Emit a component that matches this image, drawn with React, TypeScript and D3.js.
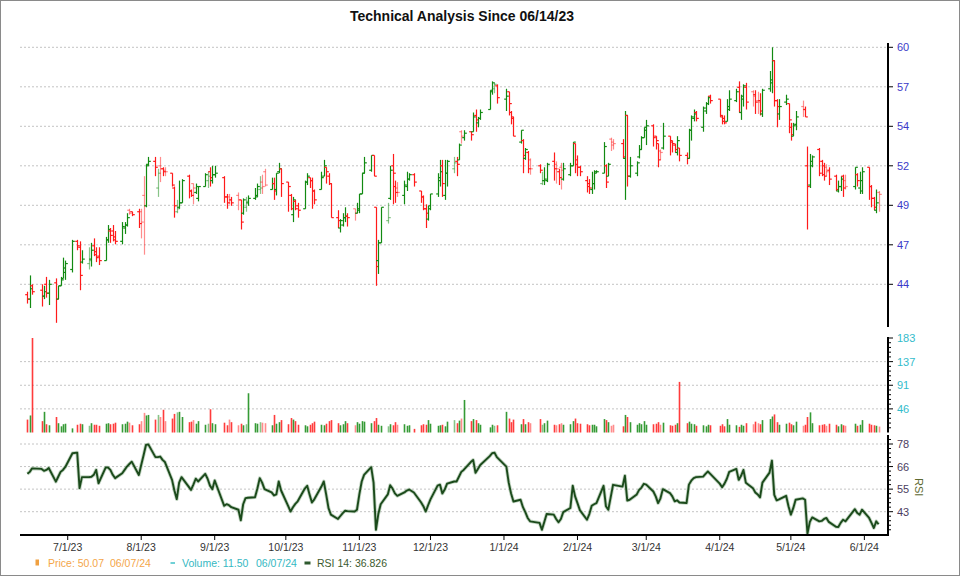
import React from "react";
import * as d3 from "d3";

// ---------- DATA ----------
const monthKeys = ["2023-06","2023-07","2023-08","2023-09","2023-10","2023-11","2023-12","2024-01","2024-02","2024-03","2024-04","2024-05","2024-06"];
const monthDays = [
  [14,15,16,20,21,22,23,26,27,28,29,30],
  [3,5,6,7,10,11,12,13,14,17,18,19,20,21,24,25,26,27,28,31],
  [1,2,3,4,7,8,9,10,11,14,15,16,17,18,21,22,23,24,25,28,29,30,31],
  [1,5,6,7,8,11,12,13,14,15,18,19,20,21,22,25,26,27,28,29],
  [2,3,4,5,6,9,10,11,12,13,16,17,18,19,20,23,24,25,26,27,30,31],
  [1,2,3,6,7,8,9,10,13,14,15,16,17,20,21,22,24,27,28,29,30],
  [1,4,5,6,7,8,11,12,13,14,15,18,19,20,21,22,26,27,28,29],
  [2,3,4,5,8,9,10,11,12,16,17,18,19,22,23,24,25,26,29,30,31],
  [1,2,5,6,7,8,9,12,13,14,15,16,20,21,22,23,26,27,28,29],
  [1,4,5,6,7,8,11,12,13,14,15,18,19,20,21,22,25,26,27,28],
  [1,2,3,4,5,8,9,10,11,12,15,16,17,18,19,22,23,24,25,26,29,30],
  [1,2,3,6,7,8,9,10,13,14,15,16,17,20,21,22,23,24,28,29,30,31],
  [3,4,5,6,7],
];

const opens = [
  43.3,43.0,43.9,43.6,43.2,44.0,43.4,44.1,43.0,43.9,44.4,44.8,
  45.0,46.9,46.5,45.5,45.4,45.7,46.6,46.2,45.9,45.6,47.0,47.6,47.6,47.2,46.9,47.8,48.0,49.0,48.9,48.9,
  48.9,50.0,49.3,52.1,52.3,50.5,52.0,51.8,51.7,51.5,50.5,48.9,49.2,49.5,51.3,50.3,50.8,50.2,49.8,50.6,51.0,51.6,51.0,
  51.4,51.2,49.9,49.9,49.7,50.0,49.7,48.8,49.2,49.5,49.8,50.0,50.4,50.9,51.6,50.4,50.8,50.4,51.6,51.8,
  50.9,50.0,48.7,49.6,49.3,49.1,50.9,51.2,51.0,50.3,50.4,51.3,51.9,51.3,50.8,48.5,47.8,48.0,48.5,48.6,49.1,48.8,
  49.0,50.1,51.5,51.7,52.7,49.2,45.6,46.8,48.3,49.8,52.0,50.6,50.5,50.0,50.6,51.1,51.4,50.3,49.9,49.1,48.4,
  49.1,50.1,51.0,52.0,50.0,51.5,51.8,52.3,52.4,54.3,53.9,54.3,54.3,55.4,54.9,55.2,55.8,57.0,57.2,57.4,
  56.5,57.0,55.6,55.2,53.6,53.7,52.5,52.9,52.4,52.0,50.8,51.0,51.0,52.3,52.1,51.6,51.9,51.1,51.4,52.0,53.5,
  52.4,51.9,51.0,50.8,50.4,50.8,51.5,51.5,52.0,51.3,53.8,53.6,53.5,52.5,55.4,51.3,51.5,52.6,53.1,53.9,
  54.4,54.7,54.0,53.5,53.0,53.2,54.0,53.7,53.4,52.9,53.2,52.7,52.5,54.4,55.2,55.6,54.6,55.7,56.2,56.7,
  56.5,55.3,55.2,55.0,55.8,56.4,57.3,55.6,56.5,57.3,57.0,56.8,56.4,56.4,55.5,57.2,57.6,59.1,56.4,55.5,56.3,56.2,
  54.6,54.0,54.8,56.0,55.8,52.0,50.7,52.0,53.1,52.3,52.0,51.9,51.7,51.3,50.3,50.6,51.3,51.0,50.6,51.4,50.5,50.3,
  51.9,50.6,49.8,49.0,50.2,
];
const highs = [
  43.5,44.6,44.0,44.0,43.9,44.5,44.3,44.4,43.9,44.5,45.8,45.6,
  47.0,47.0,46.9,46.3,46.5,46.8,47.1,46.5,46.5,47.2,48.0,47.8,48.0,47.6,48.2,48.2,48.8,49.1,48.9,49.1,
  49.1,51.3,52.1,52.6,52.6,51.8,52.6,51.9,51.9,51.5,50.6,49.7,51.0,51.1,51.4,50.4,50.8,50.8,50.6,51.5,51.6,51.9,52.0,
  52.0,51.3,50.1,50.1,49.9,50.2,49.7,49.8,49.9,50.0,50.5,50.8,51.3,51.4,51.8,51.2,51.2,51.5,52.2,51.8,
  50.9,50.1,49.9,49.7,49.5,51.0,51.5,51.2,51.2,50.4,51.6,52.4,51.9,51.5,50.8,49.0,48.4,48.8,49.2,48.8,49.1,49.5,
  50.1,51.5,52.6,52.7,52.7,49.2,47.0,49.2,49.5,52.0,52.8,51.0,50.9,51.0,51.6,51.5,51.5,50.3,50.0,49.4,49.3,
  50.1,51.5,52.4,52.4,52.4,52.4,52.6,52.6,53.5,54.4,54.4,54.3,55.6,55.8,55.3,55.8,57.1,57.7,57.6,57.5,
  57.2,57.0,55.7,55.3,54.4,53.8,53.2,53.0,52.5,52.1,51.6,51.9,52.2,52.9,52.3,51.8,52.2,52.2,52.2,53.6,53.5,
  52.7,52.0,51.3,51.1,51.6,51.7,51.7,53.6,52.1,52.2,53.9,53.8,53.8,55.7,55.4,52.6,52.3,53.4,54.0,54.6,
  55.1,54.8,54.0,53.5,53.1,54.9,54.0,53.7,53.5,54.0,53.2,52.9,54.5,55.4,55.8,55.7,56.0,56.3,56.7,56.8,
  56.5,55.4,55.4,56.5,57.1,57.2,57.7,56.8,57.5,57.6,57.1,57.1,57.0,56.9,57.2,58.4,60.0,59.1,56.5,56.5,56.8,56.2,
  54.9,54.9,55.7,56.4,56.0,53.3,52.8,52.7,53.2,52.4,52.2,52.1,51.9,51.4,51.0,51.3,51.4,51.4,51.9,51.5,51.6,51.9,
  51.9,50.7,49.9,50.4,50.3,
];
const lows = [
  42.7,42.4,43.3,42.5,43.0,43.1,42.6,41.4,43.0,43.9,44.4,44.3,
  44.8,46.3,43.6,45.4,45.0,45.2,45.9,45.5,45.3,45.6,46.8,46.8,46.9,46.7,46.7,47.4,47.9,48.7,48.6,47.8,
  47.1,46.0,49.2,52.0,51.3,49.9,50.9,51.3,51.3,50.6,48.5,48.8,49.1,49.5,49.8,49.9,49.4,50.1,49.6,50.6,50.5,50.6,50.8,
  51.2,49.5,49.1,49.4,49.3,49.0,47.7,48.7,48.9,49.3,49.7,49.9,50.1,50.1,50.6,50.4,49.7,50.0,51.5,49.9,
  48.9,49.0,48.2,49.0,48.5,49.1,50.7,50.5,49.1,49.4,50.4,51.3,50.8,50.7,48.5,47.8,47.5,47.9,48.2,47.9,48.3,48.8,
  48.8,50.1,51.5,51.6,51.3,43.9,44.7,46.8,48.1,49.7,49.4,49.5,49.9,49.4,50.3,51.0,50.6,49.5,49.0,47.8,48.3,
  49.0,49.9,50.6,49.9,49.7,50.6,51.5,51.3,52.4,53.5,53.7,53.7,54.3,54.3,54.6,55.1,55.8,56.8,56.9,56.2,
  55.7,55.4,54.8,54.0,53.5,51.5,52.4,51.5,51.4,51.5,50.7,50.7,50.9,51.0,50.8,50.7,50.4,51.0,51.3,52.0,51.5,
  51.3,51.3,50.2,50.1,50.1,50.4,51.5,51.5,50.5,51.3,53.0,53.1,52.5,49.7,50.6,51.2,51.3,52.5,53.1,53.9,
  53.4,53.3,53.1,51.9,52.4,53.1,52.7,52.9,52.9,52.7,52.3,52.1,52.5,53.7,55.0,55.0,54.3,55.5,56.1,56.2,
  55.3,54.8,54.8,55.0,55.7,56.3,55.6,55.1,56.0,55.8,56.0,55.5,55.5,55.4,55.3,57.0,56.9,56.0,54.6,55.1,56.1,54.2,
  53.7,54.0,54.4,55.3,55.3,47.7,50.5,51.9,51.3,51.3,51.0,51.3,50.7,50.3,50.2,50.3,49.9,50.4,50.4,50.6,50.1,50.1,
  49.7,49.2,49.0,48.8,48.9,
];
const closes = [
  43.0,43.7,43.5,43.2,43.5,43.4,44.0,43.0,43.9,44.3,45.1,45.4,
  46.9,46.6,44.6,45.7,45.6,46.3,46.0,45.8,45.6,47.0,47.7,47.3,47.0,46.9,47.9,48.0,48.5,48.8,48.7,48.1,
  48.2,49.3,52.0,52.3,51.9,51.5,51.8,51.6,51.6,50.7,49.3,49.1,49.5,51.0,50.3,50.0,50.5,50.6,50.6,51.4,51.3,51.2,51.4,
  51.5,49.9,49.5,49.7,49.5,49.7,48.2,49.7,49.6,49.8,49.9,50.6,50.5,50.6,50.7,50.8,50.3,51.5,51.8,50.8,
  50.6,49.1,49.7,49.1,49.0,50.9,51.3,51.0,50.3,49.7,51.2,52.0,51.6,50.8,48.5,48.3,48.3,48.5,48.6,48.5,48.8,49.1,
  50.1,51.5,52.2,52.7,51.3,45.2,46.8,49.2,48.5,51.7,51.5,50.2,50.2,50.7,51.1,51.4,50.9,49.9,49.1,48.8,49.3,
  50.1,51.2,51.6,50.8,51.5,52.3,52.2,52.1,53.4,54.0,54.2,54.1,55.3,55.1,55.2,55.6,57.1,57.6,57.5,56.6,
  56.7,56.2,55.3,54.0,54.4,52.7,53.1,51.8,51.8,51.7,51.0,51.1,52.1,51.8,51.8,51.2,51.7,51.8,52.0,53.6,52.1,
  51.9,51.6,50.6,50.5,50.8,51.6,51.6,53.3,50.9,52.1,53.4,53.5,52.6,55.4,51.3,52.0,52.2,53.1,53.9,54.6,
  54.7,53.9,53.7,52.4,52.9,54.0,53.6,53.5,53.1,53.7,52.7,52.5,54.4,55.3,55.5,55.2,55.9,56.2,56.6,56.4,
  55.4,55.0,54.9,56.0,56.5,57.0,55.6,56.7,57.4,56.3,56.7,56.3,56.3,55.7,57.1,57.8,59.1,56.4,56.0,56.0,56.5,55.1,
  54.1,54.7,55.3,55.8,55.3,50.6,52.3,52.6,51.5,51.4,51.3,51.6,51.1,50.4,50.6,51.1,50.5,50.6,51.9,51.0,51.0,51.6,
  50.6,49.8,49.2,49.5,50.07,
];
const volumes = [
  25,33,183,22,40,16,14,30,18,12,16,17,
  8,15,17,16,13,18,15,15,13,17,18,16,17,19,16,17,21,19,14,16,
  22,38,33,34,25,34,30,44,22,27,36,39,40,30,20,21,24,17,22,15,17,45,18,
  16,19,14,25,20,14,17,14,16,76,18,17,20,19,18,14,34,17,20,24,
  16,28,25,22,15,14,12,15,18,21,15,14,17,22,24,18,14,16,22,18,14,20,
  17,22,21,18,22,28,15,13,12,16,14,20,15,16,13,14,7,14,16,15,24,
  17,13,14,15,12,21,24,18,23,27,63,22,26,24,18,15,10,15,13,14,
  40,27,20,25,16,26,16,20,18,26,15,18,23,15,14,16,18,15,16,22,27,
  18,17,16,14,15,15,12,26,24,20,13,15,12,34,30,20,15,18,16,22,
  15,16,17,20,15,19,14,13,15,18,98,18,21,17,16,13,14,12,15,14,
  13,16,12,26,15,14,11,15,13,18,16,21,18,16,24,26,31,35,20,15,17,19,
  16,14,21,13,15,30,39,18,14,15,16,13,17,15,12,16,14,13,17,13,15,24,
  17,15,14,13,11.5,
];
const rsiValues = [
  62.5,63.5,65.3,65.0,64.0,64.5,65.5,58.5,61.0,63.5,64.5,66.0,
  73.0,73.3,55.2,60.8,60.8,61.0,62.0,64.5,57.7,65.7,65.7,64.5,62.0,60.3,62.8,64.5,66.2,67.5,68.7,61.9,
  67.0,72.0,77.2,77.5,71.0,71.0,71.3,69.6,68.5,59.4,54.0,49.6,58.0,60.8,56.0,54.3,57.0,60.0,58.6,62.5,60.0,56.5,54.7,
  59.1,46.2,47.0,46.5,45.5,44.2,38.8,47.0,50.1,50.3,50.6,55.0,60.3,58.0,54.7,53.0,51.5,52.0,58.6,54.0,
  46.0,43.3,45.5,47.2,48.5,55.0,56.4,52.0,47.9,49.5,56.0,58.6,52.0,45.0,41.7,39.5,41.0,42.5,43.7,43.5,43.3,44.2,
  52.0,58.6,62.0,65.9,58.0,34.0,42.0,47.0,52.0,56.7,55.0,52.5,51.3,53.0,54.0,54.5,53.0,48.0,46.0,43.3,46.5,
  49.5,56.5,57.0,52.5,54.5,57.5,58.6,58.6,61.0,63.5,64.5,68.5,69.6,63.0,65.0,67.0,71.5,73.0,73.3,71.0,
  66.2,58.0,52.5,48.4,49.3,45.5,43.0,40.0,38.3,37.5,34.0,38.0,42.0,41.7,39.5,37.8,39.5,43.0,45.1,56.4,51.0,
  47.6,44.0,39.1,42.0,46.2,47.0,47.6,56.4,46.0,44.2,50.5,56.9,56.0,61.5,48.9,49.3,52.0,54.3,55.5,57.4,
  57.0,53.5,51.0,47.6,50.0,54.7,52.7,51.0,48.5,49.0,47.9,47.6,57.0,59.0,60.3,60.8,61.1,62.5,63.7,62.5,
  57.5,55.7,57.5,60.0,63.5,65.0,59.4,61.5,64.5,58.0,55.2,53.0,52.0,50.5,58.0,63.1,69.2,51.8,49.0,49.5,51.3,46.0,
  41.7,45.0,49.3,50.0,49.3,32.0,38.0,40.3,38.3,38.5,39.5,40.0,38.0,35.5,35.4,37.5,39.1,38.3,44.5,42.5,41.7,44.2,
  40.0,37.5,34.9,38.3,36.8,
];

const priceTickLabels = ["44","47","49","52","54","57","60"];
const volumeTickLabels = ["46","91","137","183"];
const rsiTickLabels = ["43","55","66","78"];
const xTickDates = ["2023-07-01","2023-08-01","2023-09-01","2023-10-01","2023-11-01","2023-12-01","2024-01-01","2024-02-01","2024-03-01","2024-04-01","2024-05-01","2024-06-01"];
const xTickLabels = ["7/1/23","8/1/23","9/1/23","10/1/23","11/1/23","12/1/23","1/1/24","2/1/24","3/1/24","4/1/24","5/1/24","6/1/24"];

// ---------- HELPERS ----------
function parseDay(s: string): Date {
  const [y, m, d] = s.split("-").map(Number);
  return new Date(y, m - 1, d);
}

function buildDates(): Date[] {
  const out: Date[] = [];
  monthKeys.forEach((mk, i) => {
    const [y, m] = mk.split("-").map(Number);
    monthDays[i].forEach((d) => out.push(new Date(y, m - 1, d)));
  });
  return out;
}

const FONT = "'Liberation Sans', Arial, Helvetica, sans-serif";
const GREEN = "#128a12";
const RED = "#ff1a1a";

export default function App() {
  const dates = buildDates();
  const bars = dates.map((date, i) => {
    const o = opens[i], h = highs[i], l = lows[i], c = closes[i];
    const prev = i > 0 ? closes[i - 1] : o;
    const up = c >= o;
    const pale = (c >= prev) !== up;
    return { date, o, h, l, c, v: volumes[i], r: rsiValues[i], color: up ? GREEN : RED, op: pale ? 0.5 : 1 };
  });

  const left = 20, right = 888;
  const x = d3.scaleTime().domain([new Date(2023, 5, 14), new Date(2024, 5, 7)]).range([27.4, 878.6]);
  const yP = d3.scaleLinear().domain([44, 60]).range([284.3, 47.3]);
  const yV = d3.scaleLinear().domain([0, 183]).range([432.5, 338]);
  const yR = d3.scaleLinear().domain([43.2, 77.7]).range([511.7, 444]);

  const priceTicks = d3.range(7).map((i) => 44 + (i * 16) / 6);
  const volTicks = d3.range(1, 5).map((i) => (183 * i) / 4);
  const volMinor = d3.range(1, 20).filter((i) => i % 5 !== 0).map((i) => (183 * i) / 20);
  const rsiTicks = d3.range(4).map((i) => 43.2 + i * 11.5);
  const rsiMinor = d3.range(-5, 17).filter((i) => i % 5 !== 0).map((i) => 43.2 + i * 2.3).filter((v) => yR(v) > 436 && yR(v) < 534);

  const rsiLine = d3.line<typeof bars[number]>().x((d) => x(d.date)).y((d) => yR(d.r));
  const rsiPath = rsiLine(bars) || "";

  const tw = 2.3;

  return (
    <svg width={960} height={576} style={{ position: "absolute", left: 0, top: 0, display: "block", background: "#fff" }} fontFamily={FONT}>
      <rect x={0} y={0} width={960} height={576} fill="#fff" />
      <rect x={0.5} y={0.5} width={959} height={575} fill="none" stroke="#8a8a8a" />

      <text x={462} y={21} textAnchor="middle" fontSize={14} fontWeight="bold" fill="#111" textLength={224} lengthAdjust="spacingAndGlyphs">
        Technical Analysis Since 06/14/23
      </text>

      {/* gridlines */}
      {priceTicks.map((t, i) => (
        <line key={"pg" + i} x1={left} x2={right} y1={yP(t)} y2={yP(t)} stroke="#c4c4c4" strokeDasharray="2,2" />
      ))}
      {volTicks.slice(0, 3).map((t, i) => (
        <line key={"vg" + i} x1={left} x2={right} y1={yV(t)} y2={yV(t)} stroke="#c4c4c4" strokeDasharray="2,2" />
      ))}
      {rsiTicks.map((t, i) => (
        <line key={"rg" + i} x1={left} x2={right} y1={yR(t)} y2={yR(t)} stroke="#c4c4c4" strokeDasharray="2,2" />
      ))}

      {/* price bars */}
      {bars.map((b, i) => {
        const cx = Math.round(x(b.date)) + 0.5;
        return (
          <g key={"b" + i} stroke={b.color} strokeOpacity={b.op} strokeWidth={1.2}>
            <line x1={cx} x2={cx} y1={yP(b.h)} y2={yP(b.l)} />
            <line x1={cx - tw} x2={cx} y1={yP(b.o)} y2={yP(b.o)} />
            <line x1={cx} x2={cx + tw} y1={yP(b.c)} y2={yP(b.c)} />
          </g>
        );
      })}

      {/* volume bars */}
      {bars.map((b, i) => {
        const cx = Math.round(x(b.date)) + 0.5;
        return (
          <rect key={"v" + i} x={cx - 0.8} width={1.6} y={yV(b.v)} height={yV(0) - yV(b.v)} fill={b.color} fillOpacity={b.op === 1 ? 0.85 : 0.5} />
        );
      })}

      {/* RSI line */}
      <path d={rsiPath} fill="none" stroke="#8fb08f" strokeOpacity={0.55} strokeWidth={3.6} strokeLinejoin="round" />
      <path d={rsiPath} fill="none" stroke="#1b4a1b" strokeWidth={1.9} strokeLinejoin="round" />

      {/* right axes */}
      <line x1={right} x2={right} y1={43} y2={327} stroke="#000" strokeWidth={2} />
      {priceTicks.map((t, i) => (
        <g key={"pt" + i}>
          <line x1={right} x2={right + 5} y1={yP(t)} y2={yP(t)} stroke="#000" />
          <text x={897} y={yP(t) + 4} fontSize={11} fill="#3a3ac8">{priceTickLabels[i]}</text>
        </g>
      ))}

      <line x1={right} x2={right} y1={337} y2={yV(0)} stroke="#000" strokeWidth={2} />
      {volMinor.map((t, i) => (
        <line key={"vm" + i} x1={right} x2={right + 3} y1={yV(t)} y2={yV(t)} stroke="#000" />
      ))}
      {volTicks.map((t, i) => (
        <g key={"vt" + i}>
          <line x1={right} x2={right + 5} y1={yV(t)} y2={yV(t)} stroke="#000" />
          <text x={897} y={yV(t) + 4} fontSize={11} fill="#33bccb">{volumeTickLabels[i]}</text>
        </g>
      ))}

      <line x1={right} x2={right} y1={435} y2={536} stroke="#000" strokeWidth={2} />
      {rsiMinor.map((t, i) => (
        <line key={"rm" + i} x1={right} x2={right + 3} y1={yR(t)} y2={yR(t)} stroke="#000" />
      ))}
      {rsiTicks.map((t, i) => (
        <g key={"rt" + i}>
          <line x1={right} x2={right + 5} y1={yR(t)} y2={yR(t)} stroke="#000" />
          <text x={897} y={yR(t) + 4} fontSize={11} fill="#4b3d5e">{rsiTickLabels[i]}</text>
        </g>
      ))}
      <text transform="translate(915,478) rotate(90)" fontSize={11} fill="#5e6a30">RSI</text>

      {/* x axis */}
      <line x1={left} x2={right + 1} y1={535} y2={535} stroke="#000" strokeWidth={2} />
      {xTickDates.map((s, i) => {
        const px = x(parseDay(s));
        return (
          <g key={"xt" + i}>
            <line x1={px} x2={px} y1={535} y2={540} stroke="#000" />
            <text x={px} y={551} textAnchor="middle" fontSize={10.5} fill="#333">{xTickLabels[i]}</text>
          </g>
        );
      })}

      {/* legend */}
      <rect x={35.5} y={559.5} width={3.5} height={6} fill="#f0a040" />
      <text x={48} y={567} fontSize={10.5} fill="#f4a64a">Price: 50.07</text>
      <text x={110} y={567} fontSize={10.5} fill="#f4a64a">06/07/24</text>
      <line x1={170.5} x2={175} y1={563} y2={563} stroke="#40c0c8" strokeWidth={1.5} />
      <text x={182} y={567} fontSize={10.5} fill="#35b8c2">Volume: 11.50</text>
      <text x={256} y={567} fontSize={10.5} fill="#35b8c2">06/07/24</text>
      <rect x={304.5} y={561.5} width={6} height={3} fill="#2f5a2f" />
      <text x={317} y={567} fontSize={10.5} fill="#3b5a2e">RSI 14: 36.826</text>
    </svg>
  );
}
